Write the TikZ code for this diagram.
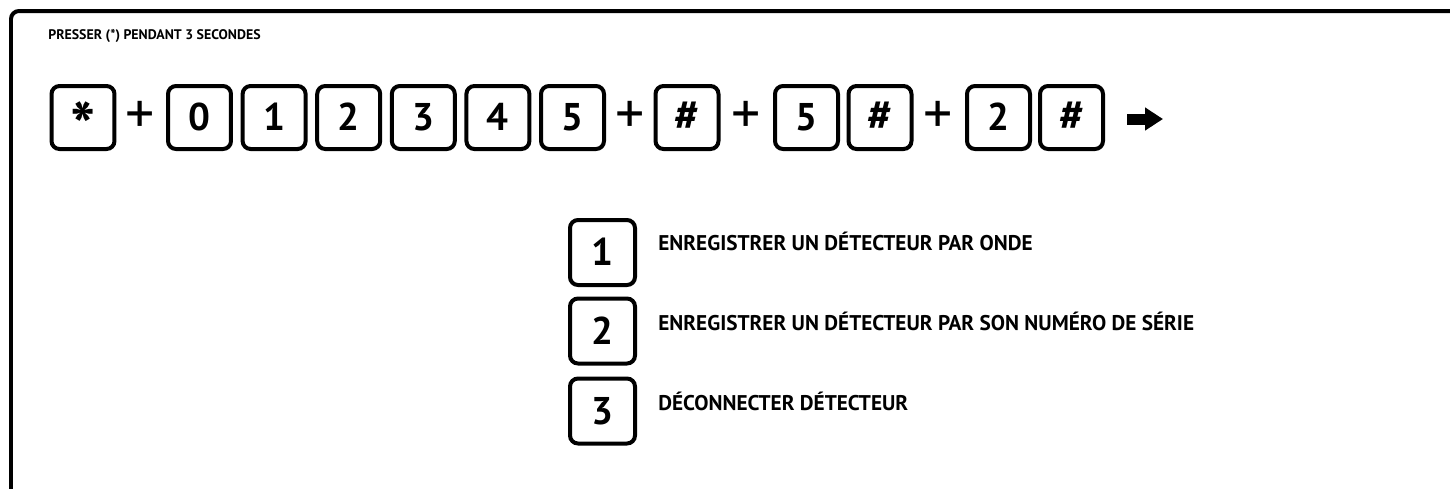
\documentclass[tikz,border=0pt]{standalone}
\usepackage{fontspec}
\setmainfont{PT Sans}
\usetikzlibrary{arrows.meta}

\begin{document}
\begin{tikzpicture}[x=0.02cm,y=-0.02cm,
  key/.style={draw,line width=0.08cm,rounded corners=0.16cm,minimum size=1.26cm,inner sep=0pt,text height=15pt,text depth=0pt,font=\fontsize{22}{22}\selectfont\bfseries},
  hashkey/.style={key,font=\fontsize{25}{25}\selectfont\bfseries},
  optkey/.style={key,minimum size=1.30cm},
  plussign/.style={inner sep=0pt,font=\fontsize{33}{33}\selectfont},
  optlabel/.style={anchor=base west,inner sep=0pt,font=\fontsize{12.1}{14}\selectfont\bfseries}]
\useasboundingbox (0,0) rectangle (1450,488);
\clip (0,0) rectangle (1450,488);
% outer frame, runs off the page at right and bottom
\draw[line width=0.08cm,rounded corners=0.16cm] (11,11) rectangle (1500,540);
\node[anchor=base west,inner sep=0pt,font=\fontsize{7.9}{9}\selectfont\bfseries] (title) at (48,39) {PRESSER (*) PENDANT 3 SECONDES};
% key sequence
\node[key] (kstar) at (83,117.5) {\raisebox{-11.5pt}{\fontsize{38}{38}\selectfont *}};
\node[plussign] (plusA) at (140,117.5) {+};
\node[key] (kzero) at (199.5,117.5) {0};
\node[key] (kone) at (274.1,117.5) {1};
\node[key] (ktwo) at (348.7,117.5) {2};
\node[key] (kthree) at (423.3,117.5) {3};
\node[key] (kfour) at (497.9,117.5) {4};
\node[key] (kfive) at (572.5,117.5) {5};
\node[plussign] (plusB) at (630,117.5) {+};
\node[hashkey] (khashA) at (687,117.5) {\#};
\node[plussign] (plusC) at (746,117.5) {+};
\node[key] (kfiveB) at (806.5,117.5) {5};
\node[hashkey] (khashB) at (880,117.5) {\#};
\node[plussign] (plusD) at (938,117.5) {+};
\node[key] (ktwoB) at (998.5,117.5) {2};
\node[hashkey] (khashC) at (1071.5,117.5) {\#};
\coordinate (arrtail) at (1127,119);
\coordinate (arrtip) at (1163,119);
\draw[line width=0.22cm,-{Triangle[length=0.36cm,width=0.44cm]}] (arrtail) -- (arrtip);
% choices
\node[optkey] (optone) at (602.5,252.5) {1};
\node[optlabel] (lblone) at (658,250) {ENREGISTRER UN DÉTECTEUR PAR ONDE};
\node[optkey] (opttwo) at (602.5,331) {2};
\node[optlabel] (lbltwo) at (658,330) {ENREGISTRER UN DÉTECTEUR PAR SON NUMÉRO DE SÉRIE};
\node[optkey] (optthree) at (602.5,411) {3};
\node[optlabel] (lblthree) at (658,410) {DÉCONNECTER DÉTECTEUR};
\end{tikzpicture}
\end{document}
